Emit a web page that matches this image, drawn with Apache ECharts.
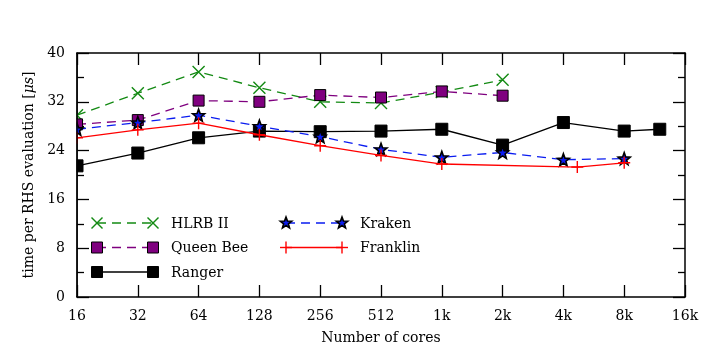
<!DOCTYPE html>
<html>
<head>
<meta charset="utf-8">
<script src="https://cdn.jsdelivr.net/npm/echarts@6/dist/echarts.min.js"></script>
<style>html,body{margin:0;padding:0;background:#fff}#c{width:706px;height:353px}</style>
</head>
<body>
<div id="c"></div>
<script>
// ---- data ----
const xTicks = [16, 32, 64, 128, 256, 512, 1024, 2048, 4096, 8192, 16384];
const yTicks = [0, 8, 16, 24, 32, 40];

const hlrbCores = [16, 32, 64, 128, 256, 512, 1024, 2048];
const hlrbTime  = [29.8, 33.4, 36.9, 34.3, 32.0, 31.8, 33.6, 35.6];

const queenCores = [16, 32, 64, 128, 256, 512, 1024, 2048];
const queenTime  = [28.3, 29.0, 32.2, 32.0, 33.1, 32.7, 33.7, 33.0];

const rangerCores = [16, 32, 64, 128, 256, 512, 1024, 2048, 4096, 8192, 12288];
const rangerTime  = [21.5, 23.6, 26.1, 27.2, 27.1, 27.2, 27.5, 24.9, 28.6, 27.2, 27.5];

const krakenCores = [16, 32, 64, 128, 256, 512, 1024, 2048, 4096, 8192];
const krakenTime  = [27.5, 28.6, 29.8, 28.0, 26.3, 24.2, 22.9, 23.7, 22.5, 22.7];

const franklinCores = [16, 32, 64, 128, 256, 512, 1024, 4800, 8192];
const franklinTime  = [26.1, 27.4, 28.5, 26.6, 24.8, 23.2, 21.8, 21.3, 22.0];

const names = ['HLRB II', 'Queen Bee', 'Ranger', 'Kraken', 'Franklin'];

// ---- styles ----
const FONT = 'DejaVu Serif';
const FS = 14;
const X_PATH = 'M0,0L10,10M10,0L0,10';
const PLUS_PATH = 'M5,0L5,10M0,5L10,5';
function starPts(cx, cy, R) {
  const pts = [];
  for (let i = 0; i < 10; i++) {
    const r = i % 2 === 0 ? R : R * 0.42;
    const a = -Math.PI / 2 + i * Math.PI / 5;
    pts.push([cx + r * Math.cos(a), cy + r * Math.sin(a)]);
  }
  return pts;
}
const STAR_PATH = starPts(10, 10, 10).map((p, i) => (i === 0 ? 'M' : 'L') + p[0].toFixed(2) + ',' + p[1].toFixed(2)).join('') + 'Z';
const SQ_PATH = 'M0,0L10,0L10,10L0,10Z';

const styles = [
  {kind: 'x', color: '#138a13', dash: [9, 6], width: 1.3, path: X_PATH, fill: 'none', stroke: '#138a13', sw: 1.4, size: 12, lsize: 11},
  {kind: 'sq', color: '#7f007f', dash: [9, 6], width: 1.3, path: SQ_PATH, fill: '#7f007f', stroke: '#000', sw: 1, size: 11, lsize: 11},
  {kind: 'sq', color: '#000000', dash: null, width: 1.3, path: SQ_PATH, fill: '#000', stroke: '#000', sw: 1, size: 12, lsize: 11},
  {kind: 'star', color: '#0a1cf0', dash: [9, 6], width: 1.3, path: STAR_PATH, fill: '#0a1cf0', stroke: '#000', sw: 1.6, size: 12, lsize: 11},
  {kind: 'plus', color: '#ff0000', dash: null, width: 1.3, path: PLUS_PATH, fill: 'none', stroke: '#ff0000', sw: 1.4, size: 12, lsize: 12}
];

const seriesData = [
  [hlrbCores, hlrbTime],
  [queenCores, queenTime],
  [rangerCores, rangerTime],
  [krakenCores, krakenTime],
  [franklinCores, franklinTime]
];

function fmtCores(v) {
  return v >= 1024 ? (v / 1024) + 'k' : String(v);
}

const series = seriesData.map((d, i) => {
  const s = styles[i];
  return {
    name: names[i],
    type: 'line',
    data: d[0].map((c, k) => [c, d[1][k]]),
    symbol: 'path://' + s.path,
    symbolSize: s.size,
    showAllSymbol: true,
    lineStyle: {color: s.color, width: s.width, type: s.dash || 'solid'},
    itemStyle: {color: s.fill === 'none' ? 'rgba(0,0,0,0)' : s.fill, borderColor: s.stroke, borderWidth: s.sw, opacity: 1},
    emphasis: {disabled: true},
    animation: false,
    z: 2 + i
  };
});

// ---- legend (custom, two columns) ----
function legendSymbol(s, cx, cy) {
  const h = s.lsize / 2;
  if (s.kind === 'sq') {
    return [{type: 'rect', silent: true, z: 100, shape: {x: cx - h, y: cy - h, width: 2 * h, height: 2 * h},
      style: {fill: s.fill, stroke: s.stroke, lineWidth: s.sw}}];
  }
  if (s.kind === 'star') {
    return [{type: 'polygon', silent: true, z: 100, shape: {points: starPts(cx, cy, h + 0.5)},
      style: {fill: s.fill, stroke: s.stroke, lineWidth: s.sw}}];
  }
  if (s.kind === 'x') {
    return [
      {type: 'line', silent: true, z: 100, shape: {x1: cx - h, y1: cy - h, x2: cx + h, y2: cy + h}, style: {stroke: s.stroke, lineWidth: s.sw}},
      {type: 'line', silent: true, z: 100, shape: {x1: cx + h, y1: cy - h, x2: cx - h, y2: cy + h}, style: {stroke: s.stroke, lineWidth: s.sw}}
    ];
  }
  return [
    {type: 'line', silent: true, z: 100, shape: {x1: cx, y1: cy - h, x2: cx, y2: cy + h}, style: {stroke: s.stroke, lineWidth: s.sw}},
    {type: 'line', silent: true, z: 100, shape: {x1: cx - h, y1: cy, x2: cx + h, y2: cy}, style: {stroke: s.stroke, lineWidth: s.sw}}
  ];
}

const GRID = {left: 77, right: 21, top: 53, bottom: 56};
const legendCols = [{x1: 97, x2: 153, tx: 171}, {x1: 286, x2: 342, tx: 360}];
const legendRows = [223, 247.5, 272];
const graphics = [];
// mask so markers sitting on the left frame are clipped by it (as in the plot area)
graphics.push({type: 'rect', silent: true, z: 50,
  shape: {x: GRID.left - 10, y: GRID.top + 1, width: 9.3, height: 353 - GRID.top - GRID.bottom - 2},
  style: {fill: '#fff'}});
graphics.push({type: 'line', silent: true, z: 51,
  shape: {x1: GRID.left, y1: GRID.top, x2: GRID.left, y2: 353 - GRID.bottom},
  style: {stroke: '#000', lineWidth: 1.5}});
names.forEach((n, i) => {
  const col = legendCols[i < 3 ? 0 : 1];
  const y = legendRows[i < 3 ? i : i - 3];
  const s = styles[i];
  graphics.push({
    type: 'line', silent: true, z: 99,
    shape: {x1: col.x1, y1: y, x2: col.x2, y2: y},
    style: {stroke: s.color, lineWidth: s.width, lineDash: s.dash || null}
  });
  legendSymbol(s, col.x1, y).forEach(g => graphics.push(g));
  legendSymbol(s, col.x2, y).forEach(g => graphics.push(g));
  graphics.push({
    type: 'text', silent: true, x: col.tx, y: y + 1, z: 100,
    style: {text: n, font: FS + 'px "' + FONT + '"', fill: '#000', verticalAlign: 'middle', align: 'left'}
  });
});

const axisLine = {show: true, onZero: false, lineStyle: {color: '#000', width: 1.5}};
const xBase = {
  type: 'log', logBase: 2, min: xTicks[0], max: xTicks[xTicks.length - 1], interval: 1,
  axisLine: axisLine,
  axisTick: {show: true, inside: true, length: 12, lineStyle: {color: '#000', width: 1.3}},
  splitLine: {show: false},
  minorTick: {show: false}
};
const yBase = {
  type: 'value', min: yTicks[0], max: yTicks[yTicks.length - 1], interval: 8,
  axisLine: axisLine,
  axisTick: {show: true, inside: true, length: 12, lineStyle: {color: '#000', width: 1.3}},
  minorTick: {show: true, splitNumber: 2, length: 7, lineStyle: {color: '#000', width: 1.3}},
  splitLine: {show: false}
};

const option = {
  backgroundColor: '#fff',
  animation: false,
  grid: GRID,
  xAxis: [
    Object.assign({}, xBase, {
      position: 'bottom',
      axisLabel: {show: true, margin: 12, color: '#000', fontFamily: FONT, fontSize: FS, formatter: fmtCores},
      name: 'Number of cores', nameLocation: 'middle', nameGap: 34,
      nameTextStyle: {color: '#000', fontFamily: FONT, fontSize: FS}
    }),
    Object.assign({}, xBase, {position: 'top', axisLabel: {show: false}})
  ],
  yAxis: [
    Object.assign({}, yBase, {
      position: 'left',
      axisLabel: {show: true, margin: 12, color: '#000', fontFamily: FONT, fontSize: FS},
      name: 'time per RHS evaluation [{i|μs}]', nameLocation: 'middle', nameGap: 37, nameRotate: 90,
      nameTextStyle: {color: '#000', fontFamily: FONT, fontSize: FS,
        rich: {i: {fontStyle: 'italic', fontFamily: FONT, fontSize: FS, color: '#000'}}}
    }),
    Object.assign({}, yBase, {position: 'right', axisLabel: {show: false}})
  ],
  series: series,
  graphic: graphics
};

const chart = echarts.init(document.getElementById('c'), null, {renderer: 'canvas'});
chart.setOption(option);
</script>
</body>
</html>
